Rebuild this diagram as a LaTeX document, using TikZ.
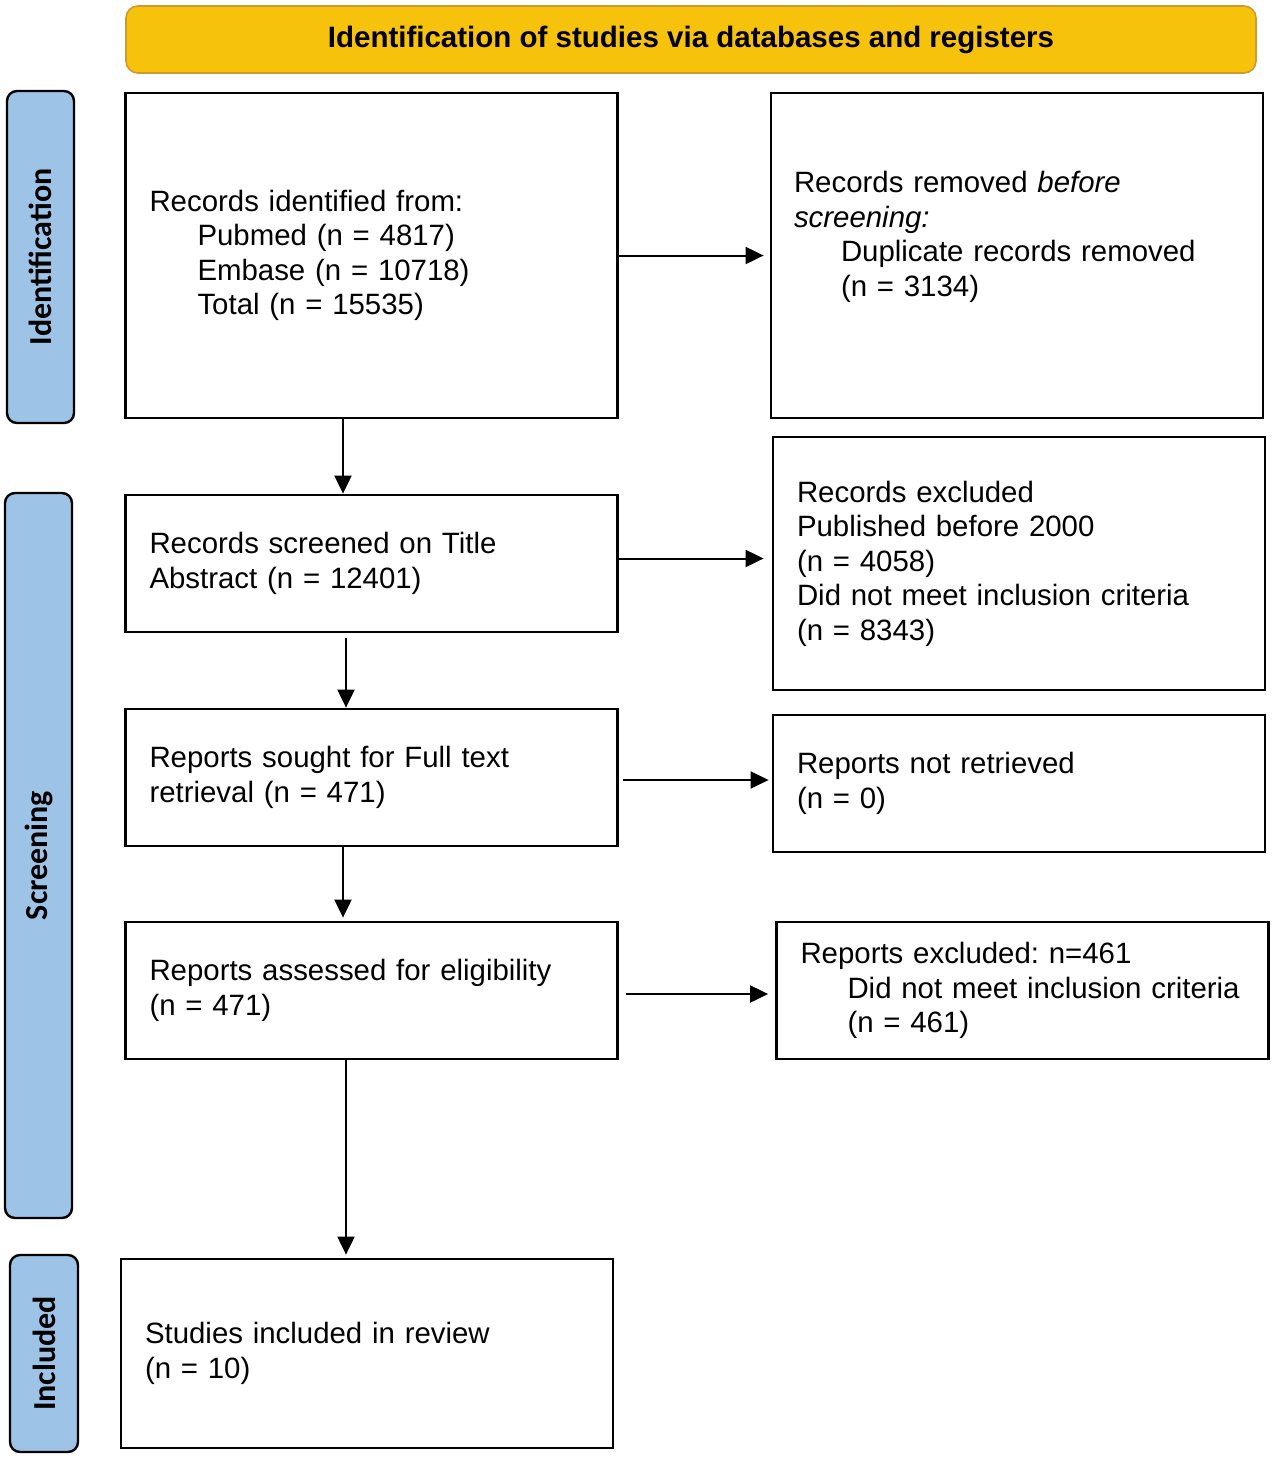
\documentclass[tikz,border=0pt]{standalone}
\usepackage{fontspec}
\setmainfont{Liberation Sans}
\newfontfamily\sidefont{Carlito}
\usetikzlibrary{arrows.meta,calc}
\definecolor{bannerY}{RGB}{247,194,12}
\definecolor{bannerB}{RGB}{205,155,45}
\definecolor{sideB}{RGB}{157,195,230}
\frenchspacing
\begin{document}
\begin{tikzpicture}[x=0.5pt,y=-0.5pt,
  box/.style={draw,line width=1.4pt,rectangle,inner xsep=12pt,inner ysep=0pt,
    text width=222pt,align=left,font=\fontsize{14.7}{17.25}\selectfont},
  txt/.style={inner sep=0pt,text width=222pt,align=left,font=\fontsize{14.7}{17.25}\selectfont},
  side/.style={draw,line width=1.2pt,fill=sideB,rounded corners=5pt,rotate=90,
    font=\sidefont\bfseries\fontsize{16}{19}\selectfont,inner sep=0pt},
  arr/.style={line width=1pt,-{Triangle[length=9pt,width=8.5pt]}}]
\useasboundingbox (0,0) rectangle (1272,1457);

% banner
\node[draw=bannerB,line width=0.8pt,fill=bannerY,rounded corners=6pt,
  minimum width=565pt,minimum height=33.5pt,inner sep=0pt,
  font=\bfseries\fontsize{14.75}{17}\selectfont] (title) at (691,39.5)
  {Identification of studies via databases and registers};

% side labels
\node[side,minimum width=166pt,minimum height=33.5pt] (s1) at (40.5,257) {Identification};
\node[side,minimum width=362.5pt,minimum height=33.5pt] (s2) at (38.5,855.5) {Screening};
\node[side,minimum width=98.5pt,minimum height=34pt] (s3) at (44,1353.5) {Included};

% boxes
\node[box,minimum height=162.5pt] (b1) at (371.5,255.5)
  {Records identified from:\\
   \hspace*{24pt}Pubmed (n = 4817)\\
   \hspace*{24pt}Embase (n = 10718)\\
   \hspace*{24pt}Total (n = 15535)};
\node[box,minimum height=162.5pt] (b2) at (1017,255.5) {};
\node[txt,anchor=west] (b2t) at ($(b2.west)+(24,-18.5)$)
  {Records removed \textit{before}\\
   \textit{screening:}\\
   \hspace*{23.5pt}Duplicate records removed\\
   \hspace*{23.5pt}(n = 3134)};
\node[box,minimum height=68.5pt] (b3) at (371.5,563.5)
  {Records screened on Title\\Abstract (n = 12401)};
\node[box,minimum height=126.5pt] (b4) at (1019,563.5)
  {Records excluded\\Published before 2000\\(n = 4058)\\\mbox{Did not meet inclusion criteria}\\(n = 8343)};
\node[box,minimum height=68.5pt] (b5) at (371.5,777.5)
  {Reports sought for Full text\\retrieval (n = 471)};
\node[box,minimum height=68.5pt] (b6) at (1019,783.5)
  {Reports not retrieved\\(n = 0)};
\node[box,minimum height=68.5pt] (b7) at (371.5,990.5)
  {Reports assessed for eligibility\\(n = 471)};
\node[box,minimum height=68.5pt] (b8) at (1022.5,990.5)
  {Reports excluded: n=461\\
   \hspace*{23.5pt}\mbox{Did not meet inclusion criteria}\\
   \hspace*{23.5pt}(n = 461)};
\node[box,minimum height=94.5pt] (b9) at (367,1353.5)
  {Studies included in review\\(n = 10)};

% connectors
\coordinate (xa) at (343,0);
\coordinate (xb) at (346,0);
\draw[arr] (b1.south -| xa) -- (b3.north -| xa);
\draw[arr] ($(b3.south -| xb)+(0,5)$) -- (b5.north -| xb);
\draw[arr] (b5.south -| xa) -- ($(b7.north -| xa)+(0,-3)$);
\draw[arr] (b7.south -| xb) -- ($(b9.north -| xb)+(0,-3)$);
\draw[arr] (b1.east) -- ($(b2.west)+(-6,0)$);
\draw[arr] ($(b3.east)+(0,-5)$) -- ($(b4.west)+(-8,-5)$);
\draw[arr] ($(b5.east)+(4,2.5)$) -- ($(b6.west)+(-3,-3.5)$);
\draw[arr] ($(b7.east)+(7,3.5)$) -- ($(b8.west)+(-7,3.5)$);
\end{tikzpicture}
\end{document}
